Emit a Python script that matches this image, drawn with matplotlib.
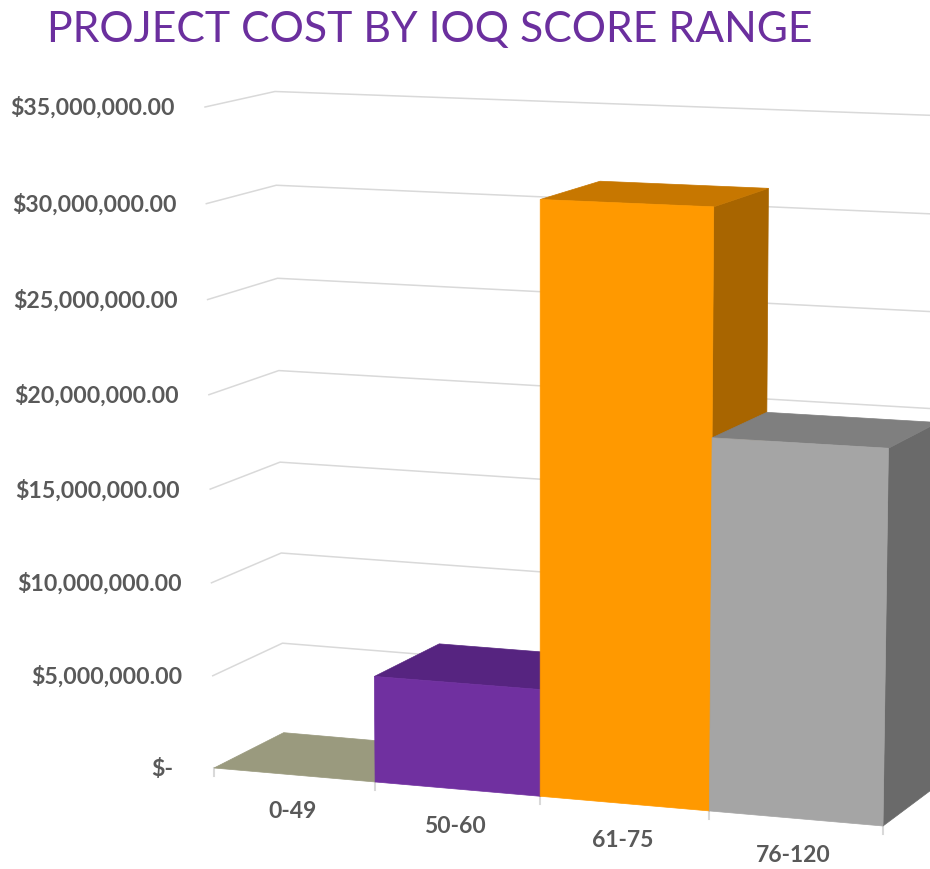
import numpy as np
import matplotlib
matplotlib.use('Agg')
import matplotlib.pyplot as plt
from matplotlib.patches import Polygon

categories = ['0-49', '50-60', '61-75', '76-120']
costs = [0.0, 5650000.0, 30950000.0, 19300000.0]
bar_colors = ['#9a9a7e', '#7030a0', '#ff9900', '#a5a5a5']
top_colors = ['#9a9a7e', '#562480', '#c77700', '#7f7f7f']
side_colors = ['#7d7d66', '#4a1f6d', '#a86500', '#6a6a6a']
tick_values = [0, 5000000, 10000000, 15000000, 20000000, 25000000, 30000000, 35000000]
tick_labels = ['$-', '$5,000,000.00', '$10,000,000.00', '$15,000,000.00',
               '$20,000,000.00', '$25,000,000.00', '$30,000,000.00', '$35,000,000.00']


# camera for the fake 3d: front plane corners in pixels, depth runs to a vanishing point
def fit_homography(src, dst):
    A = []
    b = []
    for (u, v), (x, y) in zip(src, dst):
        A.append([u, v, 1, 0, 0, 0, -u * x, -v * x])
        A.append([0, 0, 0, u, v, 1, -u * y, -v * y])
        b += [x, y]
    h = np.linalg.solve(np.array(A, float), np.array(b, float))
    return np.append(h, 1).reshape(3, 3)


H = fit_homography([(0, 0), (4, 0), (0, 35), (4, 35)],
                   [(214, 768), (883, 826), (205, 107), (893, 132)])
VP = np.array([2537.0, -410.0])
DEPTH = 0.03


def project(u, value, d=0):
    p = H @ np.array([u, value / 1e6, 1.0])
    xy = p[:2] / p[2]
    return xy + d * DEPTH * (VP - xy)


fig = plt.figure(figsize=(9.3, 8.69), dpi=100)
ax = fig.add_axes([0, 0, 1, 1])
ax.set_xlim(0, 930)
ax.set_ylim(869, 0)
ax.axis('off')

# back wall gridlines
for val in tick_values[1:]:
    pts = np.array([project(0, val), project(0, val, 1), project(5, val, 1)])
    ax.plot(pts[:, 0], pts[:, 1], color='#d9d9d9', lw=1.1, zorder=1)

# category ticks on the floor edge
for i in range(len(categories) + 1):
    x, y = project(i, 0)
    ax.plot([x, x], [y, y + 8], color='#d9d9d9', lw=1.5, zorder=1)

# bars, left to right so each one covers the side of the previous one
for i, val in enumerate(costs):
    z = 2 + i
    side = [project(i + 1, 0), project(i + 1, val), project(i + 1, val, 1), project(i + 1, 0, 1)]
    top = [project(i, val), project(i + 1, val), project(i + 1, val, 1), project(i, val, 1)]
    front = [project(i, 0), project(i + 1, 0), project(i + 1, val), project(i, val)]
    if val > 0:
        ax.add_patch(Polygon(side, closed=True, fc=side_colors[i], ec=side_colors[i], lw=0.5, zorder=z))
    ax.add_patch(Polygon(top, closed=True, fc=top_colors[i], ec=top_colors[i], lw=0.5, zorder=z))
    if val > 0:
        ax.add_patch(Polygon(front, closed=True, fc=bar_colors[i], ec=bar_colors[i], lw=0.5, zorder=z))

# value axis labels
for val, lab in zip(tick_values, tick_labels):
    x, y = project(0, val)
    if val == 0:
        x -= 11
    ax.text(x - 30, y + 1, lab, ha='right', va='center', family='Lato',
            fontweight='bold', fontsize=16.7, color='#595959')

# category labels
for i, lab in enumerate(categories):
    x, y = project(i + 0.5, 0)
    ax.text(x - 2, y + 37, lab, ha='center', va='center', family='Lato',
            fontweight='bold', fontsize=16.5, color='#595959')

ax.text(47, 30, 'PROJECT COST BY IOQ SCORE RANGE', ha='left', va='center',
        family='Lato', fontsize=30.8, color='#6b2f9e')

fig.savefig('out.png', dpi=100)
